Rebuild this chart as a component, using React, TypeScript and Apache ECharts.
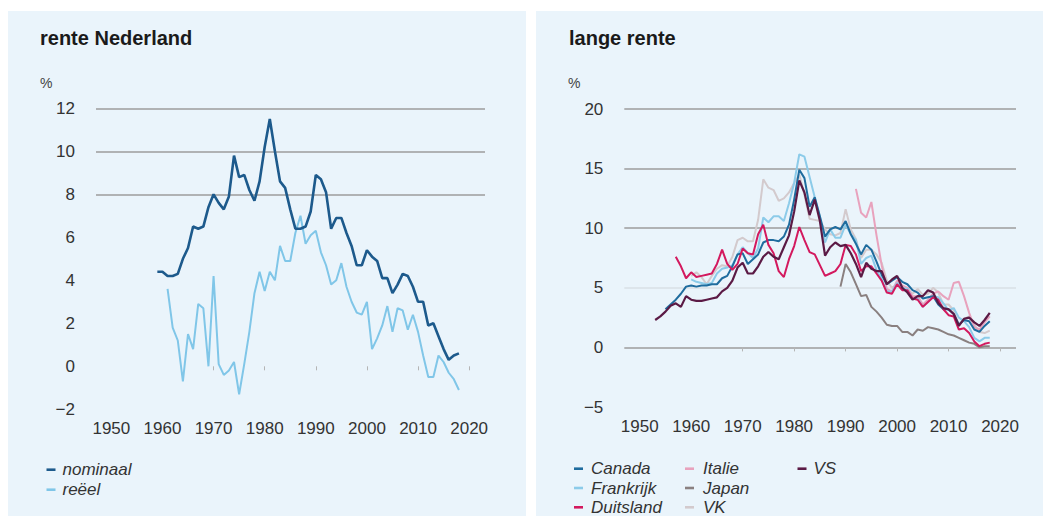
import React, { useEffect, useRef } from "react";
import * as echarts from "echarts";

const FONT = '"Liberation Sans", Arial, Helvetica, sans-serif';

// axis ticks / labels
const labelYears = [1950, 1960, 1970, 1980, 1990, 2000, 2010, 2020];
const tickYears = [1970, 1980, 1990, 2000, 2010, 2020];

// ---- rente Nederland ----
const nominaalStart = 1959;
const nominaal = [
  4.4, 4.4, 4.2, 4.2, 4.3, 5.0, 5.5, 6.5, 6.4, 6.5,
  7.4, 8.0, 7.6, 7.3, 7.9, 9.8, 8.8, 8.9, 8.2, 7.7,
  8.6, 10.2, 11.5, 10.0, 8.6, 8.3, 7.3, 6.4, 6.4, 6.5,
  7.2, 8.9, 8.7, 8.1, 6.4, 6.9, 6.9, 6.2, 5.6, 4.7,
  4.7, 5.4, 5.1, 4.9, 4.1, 4.1, 3.4, 3.8, 4.3, 4.2,
  3.7, 3.0, 3.0, 1.9, 2.0, 1.4, 0.8, 0.3, 0.5, 0.6,
];
const reeelStart = 1961;
const reeel = [
  3.6, 1.8, 1.2, -0.7, 1.5, 0.8, 2.9, 2.7, 0.0, 4.2,
  0.1, -0.4, -0.2, 0.2, -1.3, 0.1, 1.6, 3.4, 4.4, 3.5,
  4.4, 4.0, 5.6, 4.9, 4.9, 6.2, 7.0, 5.7, 6.1, 6.3,
  5.3, 4.7, 3.8, 4.0, 4.8, 3.7, 3.0, 2.5, 2.4, 3.0,
  0.8, 1.3, 1.9, 2.8, 1.6, 2.7, 2.6, 1.7, 2.4, 1.6,
  0.5, -0.5, -0.5, 0.5, 0.2, -0.3, -0.6, -1.1,
];

// ---- lange rente ----
const canadaStart = 1955;
const canada = [
  3.2, 3.6, 4.0, 4.5, 5.1,
  5.2, 5.1, 5.2, 5.2, 5.3, 5.3, 5.8, 6.0, 6.8, 7.8,
  7.9, 7.0, 7.4, 7.8, 8.8, 9.0, 9.0, 8.9, 9.3, 10.3,
  12.4, 14.9, 14.2, 11.8, 12.6, 11.0, 9.3, 9.9, 10.1, 9.9,
  10.6, 9.5, 8.7, 7.8, 8.6, 8.2, 7.2, 6.1, 5.3, 5.6,
  5.9, 5.5, 5.3, 4.8, 4.6, 4.1, 4.2, 4.3, 3.6, 3.2,
  3.2, 2.8, 1.9, 2.3, 2.2, 1.5, 1.3, 1.8, 2.2,
];
const frankrijkStart = 1960;
const frankrijk = [
  5.7, 5.5, 5.4, 5.3, 5.4, 6.2, 6.6, 6.7, 6.9, 7.8,
  8.4, 7.9, 7.5, 8.3, 10.9, 10.5, 11.0, 11.0, 10.6, 12.1,
  13.8, 16.2, 16.0, 14.3, 12.6, 10.9, 8.8, 9.9, 9.2, 9.2,
  10.3, 9.5, 9.0, 7.0, 7.5, 7.7, 6.5, 5.7, 4.7, 4.7,
  5.4, 5.0, 4.9, 4.1, 4.1, 3.4, 3.8, 4.3, 4.2, 3.7,
  3.1, 3.3, 2.5, 2.2, 1.7, 0.8, 0.5, 0.8, 0.8,
];
const duitslandStart = 1957;
const duitsland = [
  7.6, 6.8, 5.8,
  6.3, 5.9, 6.0, 6.1, 6.2, 7.0, 8.2, 7.0, 6.5, 7.0,
  8.3, 7.9, 7.8, 9.5, 10.3, 8.6, 7.9, 6.4, 5.9, 7.4,
  8.5, 10.1, 9.0, 8.0, 7.8, 6.9, 6.0, 6.2, 6.4, 7.0,
  8.6, 8.5, 7.8, 6.4, 6.8, 6.8, 6.2, 5.6, 4.6, 4.5,
  5.3, 4.8, 4.8, 4.1, 4.0, 3.4, 3.8, 4.2, 4.0, 3.2,
  2.7, 2.6, 1.5, 1.6, 1.2, 0.5, 0.1, 0.3, 0.4,
];
const italieStart = 1992;
const italie = [
  13.3, 11.3, 10.9, 12.2, 9.4, 6.9, 4.9, 4.7,
  5.6, 5.2, 5.0, 4.3, 4.3, 3.6, 4.0, 4.5, 4.7, 4.3,
  4.0, 5.4, 5.5, 4.3, 2.9, 1.7, 1.5, 2.1, 2.6,
];
const japanStart = 1989;
const japan = [
  5.1, 7.0, 6.3, 5.3, 4.3, 4.4, 3.4, 3.0, 2.5, 1.9,
  1.8, 1.8, 1.3, 1.3, 1.0, 1.5, 1.4, 1.7, 1.6, 1.5,
  1.3, 1.1, 1.0, 0.8, 0.6, 0.4, 0.3, 0.0, 0.1, 0.1,
];
const vkStart = 1960;
const vk = [
  6.0, 6.3, 5.9, 5.3, 6.0, 6.6, 6.9, 6.8, 7.6, 9.0,
  9.2, 8.9, 8.9, 10.7, 14.1, 13.4, 13.2, 12.3, 12.5, 13.0,
  13.8, 14.5, 12.8, 10.8, 10.7, 10.6, 9.9, 9.5, 9.4, 9.6,
  11.6, 9.9, 9.1, 7.5, 8.2, 8.2, 7.8, 7.1, 5.6, 5.0,
  5.3, 4.9, 4.9, 4.5, 4.9, 4.4, 4.5, 5.0, 4.6, 3.6,
  3.6, 3.1, 1.9, 2.4, 2.6, 1.9, 1.3, 1.2, 1.4,
];
const vsStart = 1953;
const vs = [
  2.3, 2.6, 3.0, 3.5, 3.7, 3.4, 4.3,
  4.0, 3.9, 3.9, 4.0, 4.1, 4.2, 4.7, 5.0, 5.6, 6.7,
  7.1, 6.2, 6.2, 6.8, 7.6, 8.0, 7.6, 7.4, 8.4, 9.4,
  11.4, 14.0, 13.0, 11.1, 12.4, 10.6, 7.7, 8.4, 8.8, 8.5,
  8.6, 7.9, 7.0, 5.9, 7.1, 6.6, 6.4, 6.4, 5.3, 5.7,
  6.0, 5.0, 4.6, 4.0, 4.3, 4.3, 4.8, 4.6, 3.7, 3.3,
  3.2, 2.8, 1.8, 2.4, 2.5, 2.1, 1.8, 2.3, 2.9,
];

const toPairs = (start: number, vals: number[]) => vals.map((v, i) => [start + i, v]);

const COLORS = {
  nominaal: "#1d5a8c",
  reeel: "#80c6e8",
  canada: "#1f6c9e",
  frankrijk: "#8ccbe9",
  duitsland: "#d3195e",
  italie: "#e8a2bd",
  japan: "#8a8080",
  vk: "#d3cacd",
  vs: "#5b1a45",
};

const GRID = "#9c9c9c";
const NONE = "rgba(0,0,0,0)";

function xAxisFor(gridIndex: number) {
  return {
    type: "value",
    gridIndex,
    min: 1947,
    max: 2023.1,
    axisLine: { show: false },
    splitLine: { show: false },
    axisTick: {
      show: true,
      customValues: tickYears,
      length: 4,
      lineStyle: { color: "#b5b5b5", width: 1 },
    },
    axisLabel: {
      customValues: labelYears,
      margin: 11,
      fontSize: 17,
      color: "#333",
      fontFamily: FONT,
      formatter: (v: number) => String(v),
    },
  };
}

function yLabel() {
  return {
    margin: 21,
    fontSize: 17,
    color: "#333",
    fontFamily: FONT,
    formatter: (v: number) => String(v).replace("-", "\u2212"),
  };
}

function line(name: string, color: string, data: any[], xi: number, width: number) {
  return {
    name,
    type: "line",
    xAxisIndex: xi,
    yAxisIndex: xi,
    data,
    showSymbol: false,
    symbol: "none",
    color,
    lineStyle: { color, width },
    emphasis: { disabled: true },
  };
}

// one legend component per entry, so rows sit exactly where the reference has them
const LH = 18;
function legendItem(left: number, centerY: number, name: string, pad: number) {
  return {
    orient: "horizontal",
    left,
    top: centerY - LH / 2,
    padding: 0,
    icon: "rect",
    itemWidth: 9,
    itemHeight: 2.6,
    selectedMode: false,
    data: [name],
    textStyle: {
      fontSize: 17,
      fontStyle: "italic",
      color: "#333",
      fontFamily: FONT,
      lineHeight: LH,
      padding: [0, 0, 0, pad],
    },
  };
}

export default function App() {
  const ref = useRef<HTMLDivElement>(null);
  useEffect(() => {
    if (!ref.current) return;
    const chart = echarts.init(ref.current, null, { renderer: "svg" });
    chart.setOption({
      animation: false,
      backgroundColor: "#ffffff",
      textStyle: { fontFamily: FONT },
      graphic: [
        { type: "rect", z: -10, silent: true, shape: { x: 8, y: 11, width: 518, height: 505 }, style: { fill: "#eaf4fb" } },
        { type: "rect", z: -10, silent: true, shape: { x: 536, y: 11, width: 507, height: 505 }, style: { fill: "#eaf4fb" } },
        { type: "text", x: 40, y: 83, style: { text: "%", fontSize: 14, fill: "#444", fontFamily: FONT, verticalAlign: "middle" } },
        { type: "text", x: 568, y: 83, style: { text: "%", fontSize: 14, fill: "#444", fontFamily: FONT, verticalAlign: "middle" } },
      ],
      title: [
        { text: "rente Nederland", left: 40, top: 28, padding: 0, textStyle: { fontSize: 20, fontWeight: "bold", color: "#1a1a1a", fontFamily: FONT } },
        { text: "lange rente", left: 569, top: 28, padding: 0, textStyle: { fontSize: 20, fontWeight: "bold", color: "#1a1a1a", fontFamily: FONT } },
      ],
      legend: [
        legendItem(46.5, 469.7, "nominaal", 2),
        legendItem(46.5, 489.7, "reëel", 2),
        legendItem(574, 468.7, "Canada", 3),
        legendItem(574, 488, "Frankrijk", 3),
        legendItem(574, 507.3, "Duitsland", 3),
        legendItem(685, 468.7, "Italie", 4),
        legendItem(685, 488, "Japan", 4),
        legendItem(685, 507.3, "VK", 4),
        legendItem(797.5, 468.7, "VS", 2),
      ],
      grid: [
        { left: 96, top: 108.3, width: 389, height: 301 },
        { left: 624.3, top: 109, width: 391.7, height: 298 },
      ],
      xAxis: [xAxisFor(0), xAxisFor(1)],
      yAxis: [
        {
          type: "value",
          gridIndex: 0,
          min: -2,
          max: 12,
          interval: 2,
          axisLine: { show: false },
          axisTick: { show: false },
          axisLabel: yLabel(),
          splitLine: {
            show: true,
            lineStyle: { width: 1.6, color: [NONE, NONE, NONE, NONE, NONE, GRID, GRID, GRID] },
          },
        },
        {
          type: "value",
          gridIndex: 1,
          min: -5,
          max: 20,
          interval: 5,
          axisLine: { show: false },
          axisTick: { show: false },
          axisLabel: yLabel(),
          splitLine: {
            show: true,
            lineStyle: { width: 1.6, color: [NONE, GRID, "#d9e1e6", GRID, GRID, GRID] },
          },
        },
      ],
      series: [
        line("reëel", COLORS.reeel, toPairs(reeelStart, reeel), 0, 2),
        line("nominaal", COLORS.nominaal, toPairs(nominaalStart, nominaal), 0, 2.6),
        line("VK", COLORS.vk, toPairs(vkStart, vk), 1, 2),
        line("Italie", COLORS.italie, toPairs(italieStart, italie), 1, 2),
        line("Japan", COLORS.japan, toPairs(japanStart, japan), 1, 2),
        line("Frankrijk", COLORS.frankrijk, toPairs(frankrijkStart, frankrijk), 1, 2),
        line("Canada", COLORS.canada, toPairs(canadaStart, canada), 1, 2),
        line("Duitsland", COLORS.duitsland, toPairs(duitslandStart, duitsland), 1, 2),
        line("VS", COLORS.vs, toPairs(vsStart, vs), 1, 2.2),
      ],
    });
    return () => chart.dispose();
  }, []);
  return (
    <div
      ref={ref}
      style={{ position: "fixed", left: 0, top: 0, width: 1043, height: 516 }}
    />
  );
}
